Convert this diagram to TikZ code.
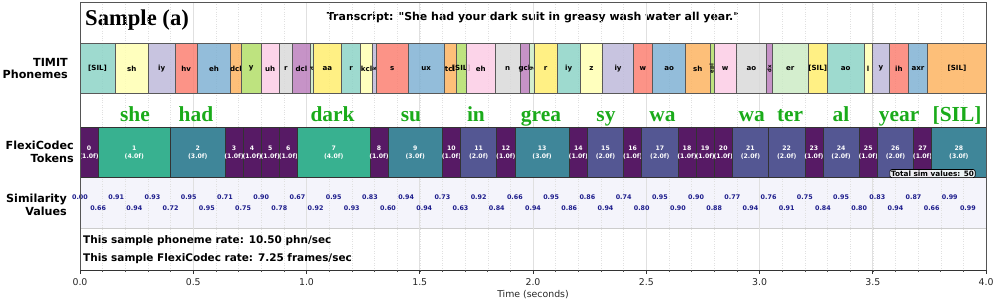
\documentclass[tikz,border=0pt]{standalone}
\usepackage{fontspec}
\setmainfont{DejaVu Sans}[Ligatures=TeXOff]
\newfontfamily\wordfont{Liberation Serif}
\definecolor{ph0}{HTML}{8DD3C7}
\definecolor{ph1}{HTML}{FFFFB3}
\definecolor{ph2}{HTML}{BEBADA}
\definecolor{ph3}{HTML}{FB8072}
\definecolor{ph4}{HTML}{80B1D3}
\definecolor{ph5}{HTML}{FDB462}
\definecolor{ph6}{HTML}{B3DE69}
\definecolor{ph7}{HTML}{FCCDE5}
\definecolor{ph8}{HTML}{D9D9D9}
\definecolor{ph9}{HTML}{BC80BD}
\definecolor{ph10}{HTML}{CCEBC5}
\definecolor{ph11}{HTML}{FFED6F}
\definecolor{tok1}{HTML}{571A65}
\definecolor{tok2}{HTML}{545793}
\definecolor{tok3}{HTML}{3F8699}
\definecolor{tok4}{HTML}{38B190}
\definecolor{wordGreen}{HTML}{1AAB1A}
\definecolor{simBlue}{HTML}{1C1C8C}
\definecolor{simBand}{HTML}{F4F4FB}
\definecolor{spineGray}{HTML}{555555}

\begin{document}
\begin{tikzpicture}[x=1bp, y=-1bp,
    phbox/.style={draw=black!65, line width=0.8bp, fill opacity=0.85},
    tokbox/.style={draw=black!80, line width=0.6bp},
    phlabel/.style={font=\fontsize{7.1}{8}\selectfont\bfseries, inner sep=0},
    toklabel/.style={text=white, font=\fontsize{6.2}{8}\selectfont\bfseries, align=center, inner sep=0},
    wordlabel/.style={text=wordGreen, font=\wordfont\fontsize{21.5}{24}\selectfont\bfseries, anchor=base, inner sep=0},
    simval/.style={text=simBlue, font=\fontsize{6.4}{7}\selectfont\bfseries, inner sep=0},
    rowlabel/.style={font=\fontsize{11.2}{13}\selectfont\bfseries, align=right, anchor=east, inner sep=0},
    stat/.style={font=\fontsize{10.5}{12}\selectfont\bfseries, anchor=base west, inner sep=0},
    ticklabel/.style={font=\fontsize{9.4}{11}\selectfont, text=black!85, anchor=base, inner sep=0}]
  \useasboundingbox (0,0) rectangle (997,304);

  \node[font=\wordfont\fontsize{22.7}{26}\selectfont\bfseries, anchor=base west, inner sep=0] (sample) at (85,25) {Sample (a)};
  \node[font=\fontsize{11}{13}\selectfont\bfseries, anchor=base, inner sep=0] (transcript) at (533,20.5)
    {Transcript: "She had your dark suit in greasy wash water all year."};

  \node[rowlabel] (lab-ph)  at (68,68.5)  {TIMIT\\Phonemes};
  \node[rowlabel] (lab-tok) at (74,152)   {FlexiCodec\\Tokens};
  \node[rowlabel] (lab-sim) at (67,204.5) {Similarity\\Values};

  \begin{scope}[xshift=80bp, x=226.5bp]
    % similarity band and grid
    \fill[simBand] (0,177) rectangle (4,228);
    \draw[black!20, line width=0.5bp] (0,228) -- (4,228);
    \foreach \k in {1,...,39}
      \draw[black!12, line width=0.4bp, dotted] (\k/10,2) -- (\k/10,270);
    \foreach \k in {1,...,7}
      \draw[black!12, line width=0.6bp] (\k/2,2) -- (\k/2,270);

    % phonemes
    \foreach \a/\b/\p [count=\i from 0] in {
        0.000/0.155/{[SIL]}, 0.155/0.302/sh, 0.302/0.419/iy, 0.419/0.518/hv,
        0.518/0.665/eh, 0.665/0.712/dcl, 0.712/0.799/y, 0.799/0.880/uh,
        0.880/0.937/r, 0.937/1.019/dcl, 1.019/1.030/d, 1.030/1.155/aa,
        1.155/1.239/r, 1.239/1.292/kcl, 1.292/1.307/k, 1.307/1.449/s,
        1.449/1.607/ux, 1.607/1.660/tcl, 1.660/1.707/{[SIL]}, 1.707/1.832/eh,
        1.832/1.943/n, 1.943/1.982/gcl, 1.982/2.004/g, 2.004/2.107/r,
        2.107/2.208/iy, 2.208/2.308/z, 2.308/2.443/iy, 2.443/2.528/w,
        2.528/2.674/ao, 2.674/2.781/sh, 2.781/2.800/epi, 2.800/2.896/w,
        2.896/3.032/ao, 3.032/3.056/dx, 3.056/3.215/er, 3.215/3.299/{[SIL]},
        3.299/3.461/ao, 3.461/3.498/l, 3.498/3.573/y, 3.573/3.657/ih,
        3.657/3.743/axr, 3.743/4.000/{[SIL]}}{
      \pgfmathtruncatemacro{\c}{mod(\i,12)}
      \pgfmathsetmacro{\r}{(\b-\a)<0.027 ? 90 : 0}
      \pgfmathsetmacro{\sc}{(\b-\a)<0.027 ? 0.75 : 1}
      \draw[phbox, fill=ph\c] (\a,43) rectangle (\b,93);
      \node[phlabel, rotate=\r, scale=\sc] (ph-\i) at ({(\a+\b)/2},68.5) {\p};
    }

    % words
    \foreach \t/\w [count=\i] in {0.243/she, 0.512/had, 1.115/dark, 1.461/su,
        1.748/in, 2.035/grea, 2.322/sy, 2.572/wa, 2.966/wa, 3.135/ter,
        3.360/al, 3.616/year, 3.872/{[SIL]}}
      \node[wordlabel] (word-\i) at (\t,121) {\w};

    % tokens: start frame / length in frames (0.08 s each)
    \foreach \s/\n [count=\i from 0] in {0/1, 1/4, 5/3, 8/1, 9/1, 10/1, 11/1,
        12/4, 16/1, 17/3, 20/1, 21/2, 23/1, 24/3, 27/1, 28/2, 30/1, 31/2, 33/1,
        34/1, 35/1, 36/2, 38/2, 40/1, 41/2, 43/1, 44/2, 46/1, 47/3}{
      \draw[tokbox, fill=tok\n] ({0.08*\s},127) rectangle ({0.08*(\s+\n)},177);
      \node[toklabel] (tok-\i) at ({0.08*(\s+\n/2)},152.5) {\i\\(\n.0f)};
    }

    % similarity values
    \foreach \v [count=\j from 0] in {0.00, 0.91, 0.93, 0.95, 0.71, 0.90, 0.67,
        0.95, 0.83, 0.94, 0.73, 0.92, 0.66, 0.95, 0.86, 0.74, 0.95, 0.90, 0.77,
        0.76, 0.75, 0.95, 0.83, 0.87, 0.99}
      \node[simval] (simA-\j) at ({0.16*\j},197.3) {\v};
    \foreach \v [count=\j from 0] in {0.66, 0.94, 0.72, 0.95, 0.75, 0.78, 0.92,
        0.93, 0.60, 0.94, 0.63, 0.84, 0.94, 0.86, 0.94, 0.80, 0.90, 0.88, 0.94,
        0.91, 0.84, 0.80, 0.94, 0.66, 0.99}
      \node[simval] (simB-\j) at ({0.08+0.16*\j},207.7) {\v};

    % frame and axis
    \draw[spineGray, line width=0.8bp] (0,2) rectangle (4,270);
    \draw[black!80, line width=0.9bp] (0,270) -- (4,270);
    \foreach \k in {0,...,40}
      \draw[black!70, line width=0.5bp] (\k/10,270) -- ++(0,2.2);
    \foreach \k/\lab in {0/0.0, 1/0.5, 2/1.0, 3/1.5, 4/2.0, 5/2.5, 6/3.0, 7/3.5, 8/4.0}{
      \draw[black!80, line width=0.7bp] (\k/2,270) -- ++(0,3.5);
      \node[ticklabel] (tick-\k) at (\k/2,285) {\lab};
    }
  \end{scope}

  \node[font=\fontsize{7.35}{9}\selectfont\bfseries, draw=black, line width=0.7bp, fill=white, fill opacity=0.9,
    text opacity=1, rounded corners=2bp, inner sep=1.2bp] (total) at (932.5,173.6) {Total sim values: 50};

  \node[stat] (rate-ph)  at (83,243.3) {This sample phoneme rate: 10.50 phn/sec};
  \node[stat] (rate-tok) at (83,261)   {This sample FlexiCodec rate: 7.25 frames/sec};
  \node[ticklabel] (xlab) at (533,297.5) {Time (seconds)};
\end{tikzpicture}
\end{document}
